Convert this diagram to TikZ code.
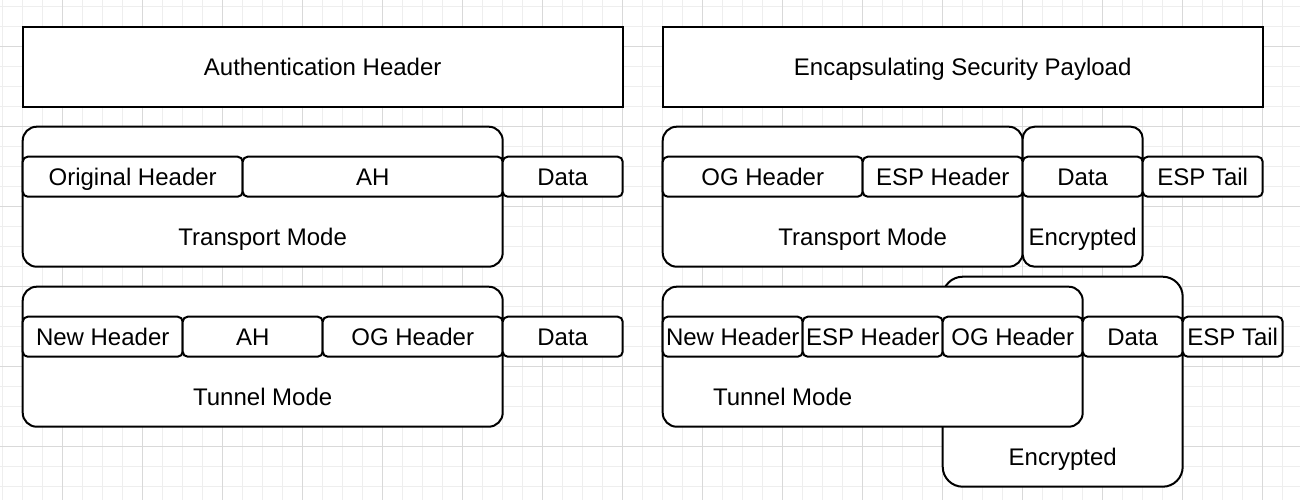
\documentclass[tikz,border=0pt]{standalone}
\usepackage{fontspec}
\setmainfont{Liberation Sans}
\definecolor{gridlight}{HTML}{EEEEEE}
\definecolor{griddark}{HTML}{D9D9D9}
\begin{document}
\begin{tikzpicture}[x=1pt,y=-1pt,
  every node/.style={font=\fontsize{24}{28}\selectfont, inner sep=0pt, outer sep=0pt, text height=22pt, text depth=4.8pt},
  titlebox/.style={draw, line width=2pt, fill=white, anchor=north west, minimum height=80pt, minimum width=600pt},
  groupbox/.style={draw, line width=2pt, fill=white, rounded corners=14pt, anchor=north west},
  cellbox/.style={draw, line width=2pt, fill=white, rounded corners=5pt, anchor=north west, minimum height=40pt},
  lbl/.style={anchor=center}]
\useasboundingbox (0,0) rectangle (1300,500);
\fill[white] (0,0) rectangle (1300,500);
% grid
\foreach \i in {0,...,64} \draw[gridlight, line width=1pt] (2.7+20*\i,0) -- (2.7+20*\i,500);
\foreach \i in {0,...,24} \draw[gridlight, line width=1pt] (0,6.7+20*\i) -- (1300,6.7+20*\i);
\foreach \i in {0,...,15} \draw[griddark, line width=1pt] (62.7+80*\i,0) -- (62.7+80*\i,500);
\foreach \i in {0,...,5} \draw[griddark, line width=1pt] (0,46.7+80*\i) -- (1300,46.7+80*\i);

% titles
\node[titlebox] (ahT) at (22.7,26.7) {Authentication Header};
\node[titlebox] (espT) at (662.7,26.7) {Encapsulating Security Payload};

% AH transport
\node[groupbox, minimum width=480pt, minimum height=140pt] (ahTr) at (22.7,126.7) {};
\node[cellbox, minimum width=220pt] (ahTrOG) at (22.7,156.7) {Original Header};
\node[cellbox, minimum width=260pt] (ahTrAH) at (242.7,156.7) {AH};
\node[cellbox, minimum width=120pt] (ahTrData) at (502.7,156.7) {Data};
\node[lbl] (ahTrL) at (262.7,236.7) {Transport Mode};

% AH tunnel
\node[groupbox, minimum width=480pt, minimum height=140pt] (ahTu) at (22.7,286.7) {};
\node[cellbox, minimum width=160pt] (ahTuNew) at (22.7,316.7) {New Header};
\node[cellbox, minimum width=140pt] (ahTuAH) at (182.7,316.7) {AH};
\node[cellbox, minimum width=180pt] (ahTuOG) at (322.7,316.7) {OG Header};
\node[cellbox, minimum width=120pt] (ahTuData) at (502.7,316.7) {Data};
\node[lbl] (ahTuL) at (262.7,396.7) {Tunnel Mode};

% ESP transport
\node[groupbox, minimum width=360pt, minimum height=140pt] (espTr) at (662.7,126.7) {};
\node[groupbox, rounded corners=12pt, minimum width=120pt, minimum height=140pt] (espTrEnc) at (1022.7,126.7) {};
\node[cellbox, minimum width=200pt] (espTrOG) at (662.7,156.7) {OG Header};
\node[cellbox, minimum width=160pt] (espTrESP) at (862.7,156.7) {ESP Header};
\node[cellbox, minimum width=120pt] (espTrData) at (1022.7,156.7) {Data};
\node[cellbox, minimum width=120pt] (espTrTail) at (1142.7,156.7) {ESP Tail};
\node[lbl] (espTrL) at (862.7,236.7) {Transport Mode};
\node[lbl] (espTrEncL) at (1082.7,236.7) {Encrypted};

% ESP tunnel
\node[groupbox, rounded corners=20pt, minimum width=240pt, minimum height=210pt] (espTuEnc) at (942.7,276.7) {};
\node[groupbox, minimum width=420pt, minimum height=140pt] (espTu) at (662.7,286.7) {};
\node[cellbox, minimum width=140pt] (espTuNew) at (662.7,316.7) {New Header};
\node[cellbox, minimum width=140pt] (espTuESP) at (802.7,316.7) {ESP Header};
\node[cellbox, minimum width=140pt] (espTuOG) at (942.7,316.7) {OG Header};
\node[cellbox, minimum width=100pt] (espTuData) at (1082.7,316.7) {Data};
\node[cellbox, minimum width=100pt] (espTuTail) at (1182.7,316.7) {ESP Tail};
\node[lbl] (espTuL) at (782.7,396.7) {Tunnel Mode};
\node[lbl] (espTuEncL) at (1062.7,456.7) {Encrypted};
\end{tikzpicture}
\end{document}
